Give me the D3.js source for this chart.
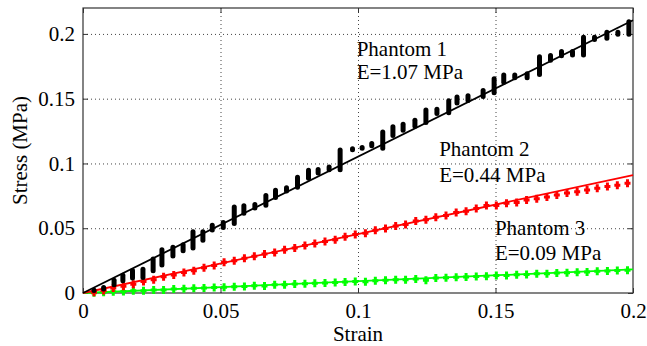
<!DOCTYPE html>
<html><head><meta charset="utf-8">
<script src="https://cdn.jsdelivr.net/npm/d3@7"></script>
<style>body{margin:0;background:#fff}svg{display:block}</style>
</head><body>
<svg id="c" width="647" height="346"></svg>
<script>
// Tick values
const xTicks = [0, 0.05, 0.1, 0.15, 0.2];
const yTicks = [0, 0.05, 0.1, 0.15, 0.2];
// Phantom 1 (black): clusters of measurements at each strain (stress min..max)
const p1Strain = [0.004,0.0075,0.0113,0.0145,0.018,0.0218,0.0255,0.0287,0.0327,0.0364,0.040,0.0436,0.047,0.051,0.055,0.0585,0.0625,0.0665,0.070,0.074,0.078,0.082,0.0855,0.0895,0.0935,0.098,0.1015,0.105,0.109,0.1127,0.1164,0.1207,0.1247,0.1287,0.133,0.136,0.140,0.1455,0.1495,0.153,0.157,0.1615,0.166,0.170,0.174,0.178,0.182,0.186,0.1905,0.1945,0.1985];
const p1Lo = [0.001,0.002,0.0052,0.0083,0.0105,0.0108,0.016,0.0205,0.0275,0.0315,0.0335,0.0395,0.0475,0.0495,0.0525,0.0605,0.0645,0.0665,0.0725,0.0775,0.0805,0.0875,0.0915,0.094,0.094,0.1095,0.1105,0.1125,0.1105,0.1205,0.1245,0.1275,0.1305,0.1375,0.138,0.1455,0.1475,0.1505,0.1535,0.1615,0.165,0.165,0.1675,0.1785,0.182,0.1825,0.1825,0.1945,0.1955,0.1985,0.1985];
const p1Hi = [0.003,0.0055,0.011,0.0148,0.0185,0.0195,0.0275,0.0345,0.0365,0.0385,0.0485,0.0485,0.0535,0.0555,0.0675,0.0685,0.0695,0.0765,0.0805,0.0825,0.0905,0.096,0.0965,0.0985,0.1115,0.1125,0.1135,0.1165,0.1255,0.1295,0.1315,0.1345,0.1425,0.143,0.1495,0.1525,0.1535,0.1575,0.1665,0.1695,0.1695,0.1705,0.1835,0.1845,0.1875,0.1875,0.1985,0.1985,0.2025,0.2025,0.2105];
// Phantom 2 (red)
const p2Strain = [0.004,0.0075,0.011,0.0147,0.0183,0.022,0.0257,0.0293,0.033,0.0367,0.0403,0.044,0.0477,0.0513,0.055,0.0587,0.0623,0.066,0.0697,0.0733,0.077,0.0807,0.0843,0.088,0.0917,0.0953,0.099,0.1027,0.1063,0.11,0.1137,0.1173,0.121,0.1247,0.1283,0.132,0.1357,0.1393,0.143,0.1467,0.1503,0.154,0.1577,0.1613,0.165,0.1687,0.1723,0.176,0.1797,0.1833,0.187,0.1907,0.1943,0.198];
const p2Stress = [0.0005,0.002,0.0038,0.0052,0.0068,0.0088,0.0102,0.0125,0.0138,0.0158,0.0172,0.0195,0.0212,0.0238,0.0248,0.0268,0.0284,0.0302,0.0312,0.0334,0.0348,0.0366,0.0382,0.0398,0.0412,0.0434,0.0452,0.0462,0.0485,0.0498,0.0518,0.0528,0.0556,0.0566,0.0584,0.0598,0.0622,0.0632,0.0652,0.0675,0.0676,0.0692,0.0698,0.0718,0.0728,0.0742,0.0756,0.0772,0.0782,0.0796,0.0808,0.0822,0.0832,0.0848];
// Phantom 3 (green)
const p3Strain = [0.004,0.0075,0.011,0.0147,0.0183,0.022,0.0257,0.0293,0.033,0.0367,0.0403,0.044,0.0477,0.0513,0.055,0.0587,0.0623,0.066,0.0697,0.0733,0.077,0.0807,0.0843,0.088,0.0917,0.0953,0.099,0.1027,0.1063,0.11,0.1137,0.1173,0.121,0.1247,0.1283,0.132,0.1357,0.1393,0.143,0.1467,0.1503,0.154,0.1577,0.1613,0.165,0.1687,0.1723,0.176,0.1797,0.1833,0.187,0.1907,0.1943,0.198];
const p3Stress = [0.0002,0.0005,0.0010,0.0012,0.0017,0.0018,0.0023,0.0024,0.0030,0.0032,0.0037,0.0038,0.0043,0.0044,0.0049,0.0051,0.0056,0.0054,0.0063,0.0064,0.0069,0.0071,0.0076,0.0077,0.0082,0.0084,0.0089,0.0087,0.0095,0.0098,0.0102,0.0103,0.0108,0.0098,0.0115,0.0117,0.0122,0.0123,0.0128,0.0130,0.0135,0.0136,0.0141,0.0143,0.0148,0.0149,0.0155,0.0156,0.0161,0.0162,0.0168,0.0169,0.0174,0.0176];
// Linear fits (end points)
const fitStrain = [0, 0.2];
const fit1 = [0, 0.2105];
const fit2 = [0, 0.091];
const fit3 = [0, 0.0182];
const labels = [
  {t:"Phantom 1", x:0.0995, y:0.183},
  {t:"E=1.07 MPa", x:0.0995, y:0.1655},
  {t:"Phantom 2", x:0.1295, y:0.1055},
  {t:"E=0.44 MPa", x:0.1295, y:0.0855},
  {t:"Phantom 3", x:0.1498, y:0.0445},
  {t:"E=0.09 MPa", x:0.1498, y:0.0255}
];

const svg = d3.select("#c");
const L = 83, R = 633, T = 8, B = 293;
const x = d3.scaleLinear().domain([0, 0.2]).range([L, R]);
const y = d3.scaleLinear().domain([0, 0.22]).range([B, T]);
const FONT = "Liberation Serif";
const FS = 21;

// grid
const g = svg.append("g");
g.selectAll(".gx").data(xTicks.slice(1, -1)).join("line")
  .attr("x1", d => x(d) + 0.5).attr("x2", d => x(d) + 0.5).attr("y1", T).attr("y2", B)
  .attr("stroke", "#444").attr("stroke-width", 1).attr("stroke-dasharray", "1,3");
g.selectAll(".gy").data(yTicks.slice(1)).join("line")
  .attr("y1", d => y(d) + 0.5).attr("y2", d => y(d) + 0.5).attr("x1", L).attr("x2", R)
  .attr("stroke", "#444").attr("stroke-width", 1).attr("stroke-dasharray", "1,3");

// axes
const ax = d3.axisBottom(x).tickValues(xTicks).tickFormat(d3.format("")).tickSizeInner(-5).tickSizeOuter(0).tickPadding(10);
const ay = d3.axisLeft(y).tickValues(yTicks).tickFormat(d3.format("")).tickSizeInner(-5).tickSizeOuter(0).tickPadding(8);
const gx = svg.append("g").attr("transform", `translate(0,${B})`).call(ax);
const gy = svg.append("g").attr("transform", `translate(${L},0)`).call(ay);
const gx2 = svg.append("g").attr("transform", `translate(0,${T})`).call(d3.axisTop(x).tickValues(xTicks).tickSizeInner(-5).tickSizeOuter(0).tickFormat(""));
const gy2 = svg.append("g").attr("transform", `translate(${R},0)`).call(d3.axisRight(y).tickValues(yTicks).tickSizeInner(-5).tickSizeOuter(0).tickFormat(""));
[gx, gy, gx2, gy2].forEach(a => {
  a.attr("font-family", FONT).attr("font-size", FS);
  a.select(".domain").remove();
  a.selectAll(".tick line").attr("stroke", "#333");
  a.selectAll("text").attr("fill", "#000");
});
svg.append("rect").attr("x", L).attr("y", T).attr("width", R - L).attr("height", B - T)
  .attr("fill", "none").attr("stroke", "#333").attr("stroke-width", 1.2);

const plus = (sel, xs, ys, color) => {
  sel.selectAll(null).data(xs.map((d, i) => [d, ys[i]])).join("path")
    .attr("d", d => { const px = x(d[0]), py = y(d[1]);
      return `M${px-3},${py}H${px+3}M${px},${py-4}V${py+4}`; })
    .attr("stroke", color).attr("stroke-width", 3).attr("fill", "none");
};
const line = d3.line().x(d => x(d[0])).y(d => y(d[1]));

// Phantom 3 (green)
plus(svg.append("g"), p3Strain, p3Stress, "#00ff00");
svg.append("path").datum(fitStrain.map((d, i) => [d, fit3[i]])).attr("d", line)
  .attr("stroke", "#00ff00").attr("stroke-width", 1.8).attr("fill", "none");

// Phantom 2 (red)
plus(svg.append("g"), p2Strain, p2Stress, "#ff0000");
svg.append("path").datum(fitStrain.map((d, i) => [d, fit2[i]])).attr("d", line)
  .attr("stroke", "#ff0000").attr("stroke-width", 1.8).attr("fill", "none");

// Phantom 1 (black)
svg.append("g").selectAll("line").data(p1Strain.map((d, i) => [d, p1Lo[i], p1Hi[i]])).join("line")
  .attr("x1", d => x(d[0])).attr("x2", d => x(d[0]))
  .attr("y1", d => y(d[1]) - 1.5).attr("y2", d => y(d[2]) + 1.5)
  .attr("stroke", "#000").attr("stroke-width", 5).attr("stroke-linecap", "round");
svg.append("path").datum(fitStrain.map((d, i) => [d, fit1[i]])).attr("d", line)
  .attr("stroke", "#000").attr("stroke-width", 1.8).attr("fill", "none");

// annotations
svg.append("g").attr("font-family", FONT).attr("font-size", FS)
  .selectAll("text").data(labels).join("text")
  .attr("x", d => x(d.x)).attr("y", d => y(d.y)).text(d => d.t).attr("fill", "#000");

// axis titles
svg.append("text").attr("x", x(0.1)).attr("y", 341).attr("text-anchor", "middle")
  .attr("font-family", FONT).attr("font-size", FS).text("Strain");
svg.append("text").attr("transform", `translate(27,${(T + B) / 2}) rotate(-90)`).attr("text-anchor", "middle")
  .attr("font-family", FONT).attr("font-size", FS).text("Stress (MPa)");
</script>
</body></html>
